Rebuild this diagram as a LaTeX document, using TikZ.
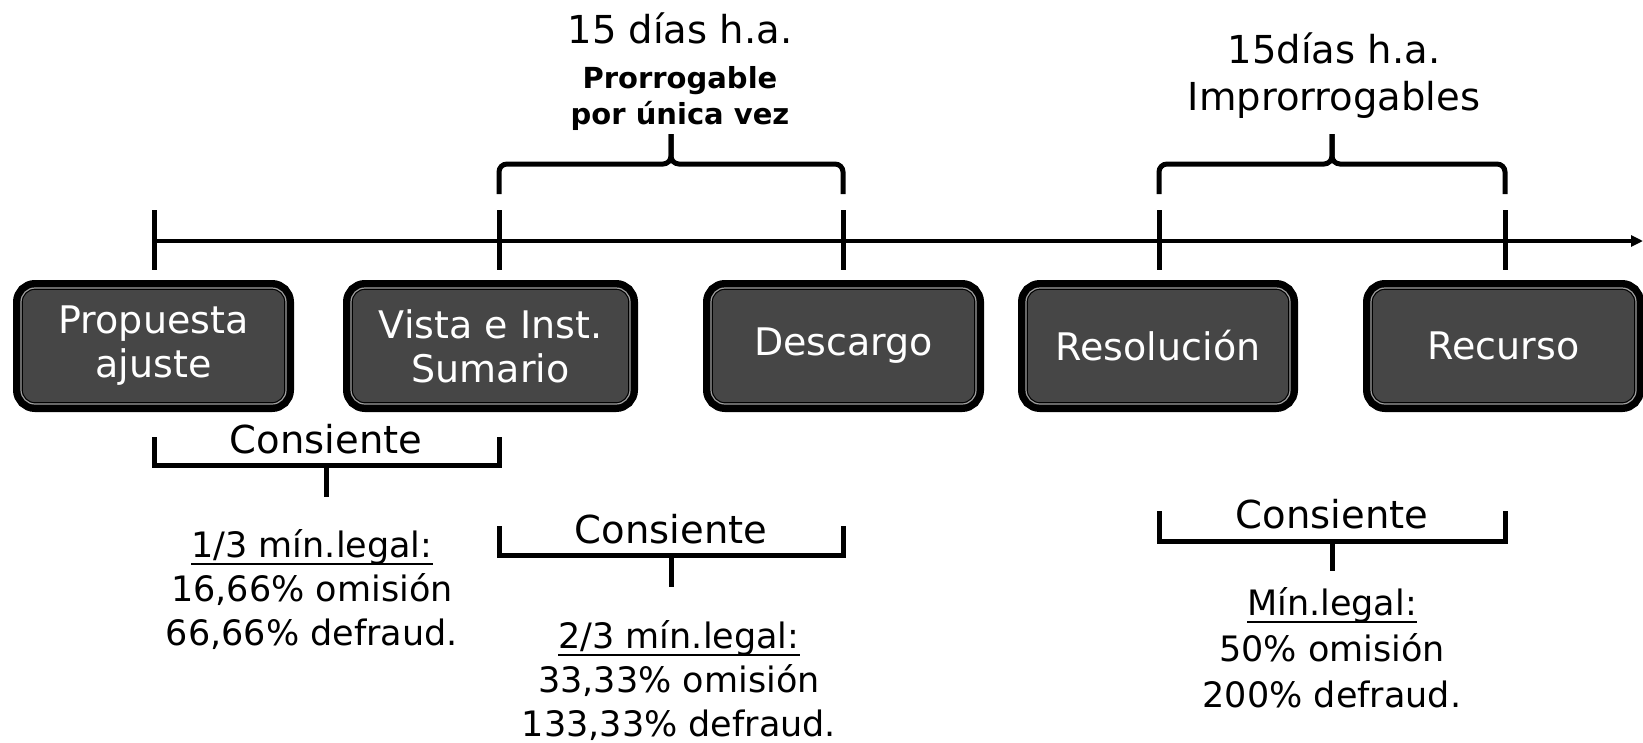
\documentclass[tikz,border=0pt]{standalone}
\usepackage{fontspec}
\setmainfont{DejaVu Sans}
\usetikzlibrary{arrows.meta}
\definecolor{boxfill}{HTML}{464646}
\definecolor{innerline}{HTML}{A0A0A0}
\newcommand{\ulmark}[1]{\leavevmode\setbox0\hbox{#1}\rlap{\vrule height -5.5pt depth 8pt width \wd0}\box0}
\begin{document}
\begin{tikzpicture}[x=1pt,y=-1pt,
  every node/.style={inner sep=0pt, outer sep=0pt},
  stage/.style={rounded corners=14pt, fill=boxfill, text=white, align=center,
     minimum height=116pt, preaction={draw=black, line width=16pt},
     draw=black, line width=1.2pt, double=innerline, double distance=1.2pt,
     font=\fontsize{38}{44}\selectfont},
  axisline/.style={line width=4.5pt},
  tickline/.style={line width=5pt},
  bracestyle/.style={line width=5pt, rounded corners=8pt},
  bracketstyle/.style={line width=5pt, line join=miter},
  toptext/.style={font=\fontsize{38.5}{47}\selectfont, align=center, anchor=base},
  boldtext/.style={font=\bfseries\fontsize{29}{36}\selectfont, align=center, anchor=base},
  consiente/.style={font=\fontsize{38.5}{44}\selectfont, anchor=base},
  rule/.style={font=\fontsize{35}{44}\selectfont, align=center, anchor=base},
  rulewide/.style={font=\fontsize{35}{46}\selectfont, align=center, anchor=base}
]
\useasboundingbox (0,0) rectangle (1643,742);

% timeline
\coordinate (tlstart) at (154,241);
\coordinate (tlend) at (1643,241);
\draw[axisline, -{Triangle[length=12pt,width=11pt]}] (tlstart) -- (tlend);
\foreach \x in {154,499,843,1159,1505}
  \draw[tickline] (\x,210) -- (\x,270);

% stage boxes
\node[stage, minimum width=265pt] (prop) at (153.5,346) {Propuesta\\ajuste};
\node[stage, minimum width=279pt] (vista) at (490.5,346) {Vista e Inst.\\Sumario};
\node[stage, minimum width=265pt] (desc) at (843.5,346) {Descargo};
\node[stage, minimum width=264pt] (reso) at (1158,346) {Resolución};
\node[stage, minimum width=265pt] (recu) at (1503.5,346) {Recurso};

% top braces
\draw[bracestyle] (499,194) -- (499,164) -- (671,164) -- (671,134);
\draw[bracestyle] (843,194) -- (843,164) -- (671,164) -- (671,134);
\draw[bracestyle] (1159,194) -- (1159,164) -- (1332,164) -- (1332,134);
\draw[bracestyle] (1505,194) -- (1505,164) -- (1332,164) -- (1332,134);

\node[toptext] (plazo1) at (680,43) {15 días h.a.};
\node[boldtext] (prorr) at (680,124) {Prorrogable\\por única vez};
\node[toptext] (plazo2) at (1334,110) {15días h.a.\\Improrrogables};

% bottom brackets
\draw[bracketstyle] (154,437) -- (154,465) -- (499,465) -- (499,437);
\draw[bracketstyle] (326,465) -- (326,497);
\draw[bracketstyle] (499,526) -- (499,555) -- (843,555) -- (843,526);
\draw[bracketstyle] (671,555) -- (671,587);
\draw[bracketstyle] (1159,511) -- (1159,541) -- (1505,541) -- (1505,511);
\draw[bracketstyle] (1332,541) -- (1332,571);

\node[consiente] (cons1) at (326,453) {Consiente};
\node[consiente] (cons2) at (671,543) {Consiente};
\node[consiente] (cons3) at (1332,528) {Consiente};

\node[rule] (min1) at (312,645) {\ulmark{1/3 mín.legal:}\\16,66\% omisión\\66,66\% defraud.};
\node[rule] (min2) at (679,736) {\ulmark{2/3 mín.legal:}\\33,33\% omisión\\133,33\% defraud.};
\node[rulewide] (min3) at (1332,707) {\ulmark{Mín.legal:}\\50\% omisión\\200\% defraud.};
\end{tikzpicture}
\end{document}
